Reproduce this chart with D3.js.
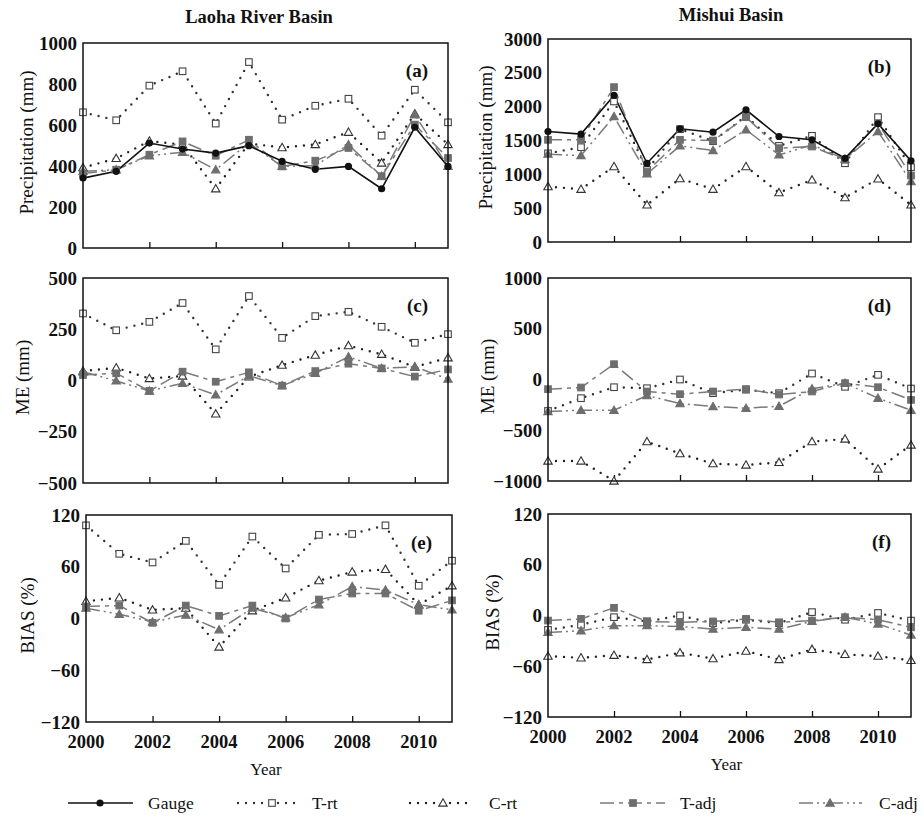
<!DOCTYPE html>
<html>
<head>
<meta charset="utf-8">
<script src="https://cdn.jsdelivr.net/npm/d3@7"></script>
<style>
  body { margin: 0; background: #fff; }
  text { font-family: 'Liberation Serif', 'Times New Roman', serif; fill: #111; }
</style>
</head>
<body>
<div id="chart"></div>
<script>
// years on the x axis
var years = [2000, 2001, 2002, 2003, 2004, 2005, 2006, 2007, 2008, 2009, 2010, 2011];
var yearTicks = [2000, 2002, 2004, 2006, 2008, 2010];

// (a) Laoha precipitation (mm)
var aGauge = [341, 374, 512, 483, 463, 499, 423, 384, 398, 289, 589, 398];
var aTrt   = [662, 623, 792, 862, 607, 907, 626, 694, 728, 548, 772, 613];
var aCrt   = [392, 437, 522, 504, 289, 510, 490, 505, 565, 415, 655, 505];
var aTadj  = [363, 382, 455, 520, 450, 528, 398, 426, 488, 350, 602, 439];
var aCadj  = [374, 382, 450, 467, 382, 512, 398, 402, 504, 350, 650, 398];

// (b) Mishui precipitation (mm)
var bGauge = [1633, 1594, 2166, 1164, 1673, 1623, 1954, 1559, 1510, 1238, 1747, 1199];
var bTrt   = [1310, 1401, 2077, 1066, 1668, 1490, 1860, 1420, 1569, 1164, 1845, 1105];
var bCrt   = [819, 780, 1115, 548, 938, 780, 1115, 730, 918, 656, 933, 548];
var bTadj  = [1510, 1510, 2289, 1041, 1510, 1500, 1845, 1387, 1411, 1214, 1757, 982];
var bCadj  = [1298, 1278, 1855, 1007, 1421, 1352, 1658, 1288, 1436, 1224, 1633, 893];

// (c) Laoha ME (mm)
var cTrt  = [327, 245, 286, 378, 152, 412, 208, 314, 335, 262, 184, 226];
var cCrt  = [46, 62, 10, 22, -163, 18, 75, 124, 170, 128, 66, 111];
var cTadj = [27, 35, -51, 43, -6, 40, -25, 46, 82, 59, 19, 54];
var cCadj = [43, -2, -51, -14, -70, 23, -25, 35, 116, 59, 67, 7];

// (d) Mishui ME (mm)
var dTrt  = [-310, -184, -76, -86, 0, -135, -100, -135, 59, -72, 46, -89];
var dCrt  = [-803, -803, -1000, -612, -730, -829, -842, -816, -612, -586, -882, -645];
var dTadj = [-95, -79, 151, -118, -145, -118, -95, -148, -118, -36, -76, -201];
var dCadj = [-316, -303, -303, -158, -237, -266, -283, -263, -92, -36, -184, -303];

// (e) Laoha BIAS (%)
var eTrt  = [108, 75, 65, 90, 39, 95, 58, 97, 98, 108, 38, 67];
var eCrt  = [20, 24, 10, 12, -33, 9, 24, 44, 54, 57, 16, 38];
var eTadj = [14, 15, -5, 15, 3, 15, 0, 22, 29, 29, 9, 21];
var eCadj = [12, 5, -4, 4, -13, 12, 1, 16, 37, 33, 16, 10];

// (f) Mishui BIAS (%)
var fTrt  = [-17, -11, -2, -7, 0, -9, -5, -9, 4, -5, 3, -6];
var fCrt  = [-48, -50, -47, -52, -44, -51, -42, -52, -40, -46, -48, -53];
var fTadj = [-6, -4, 9, -7, -8, -7, -4, -8, -6, -2, -5, -14];
var fCadj = [-20, -18, -12, -12, -13, -16, -14, -16, -7, -2, -10, -23];

// line styles
var styles = {
  "Gauge": { color: "#111", width: 1.6, dash: null, marker: "circle", fill: "#111" },
  "T-rt":  { color: "#333", width: 2.4, dash: "0,8", cap: "round", marker: "square", fill: "#fff", mstroke: "#444" },
  "C-rt":  { color: "#222", width: 2.4, dash: "0,8", cap: "round", marker: "triangle", fill: "#fff", mstroke: "#333" },
  "T-adj": { color: "#7a7a7a", width: 1.5, dash: "14,5,4,5", marker: "square", fill: "#6e6e6e" },
  "C-adj": { color: "#7a7a7a", width: 1.5, dash: "14,4,2,4,2,4", marker: "triangle", fill: "#6e6e6e" }
};
var drawOrder = ["C-rt", "T-rt", "C-adj", "T-adj", "Gauge"];

var panels = [
  { id: "(a)", x0: 83, x1: 448, y0: 43, y1: 248, dom: [0, 1000], ticks: d3.range(0, 1001, 200),
    title: "Precipitation (mm)", tx: 26,
    series: { "Gauge": aGauge, "T-rt": aTrt, "C-rt": aCrt, "T-adj": aTadj, "C-adj": aCadj } },
  { id: "(b)", x0: 548, x1: 911, y0: 39, y1: 242, dom: [0, 3000], ticks: d3.range(0, 3001, 500),
    title: "Precipitation (mm)", tx: 485,
    series: { "Gauge": bGauge, "T-rt": bTrt, "C-rt": bCrt, "T-adj": bTadj, "C-adj": bCadj } },
  { id: "(c)", x0: 83, x1: 448, y0: 278, y1: 483, dom: [-500, 500], ticks: [-500, -250, 0, 250, 500],
    title: "ME (mm)", tx: 22,
    series: { "T-rt": cTrt, "C-rt": cCrt, "T-adj": cTadj, "C-adj": cCadj } },
  { id: "(d)", x0: 548, x1: 911, y0: 278, y1: 481, dom: [-1000, 1000], ticks: [-1000, -500, 0, 500, 1000],
    title: "ME (mm)", tx: 487,
    series: { "T-rt": dTrt, "C-rt": dCrt, "T-adj": dTadj, "C-adj": dCadj } },
  { id: "(e)", x0: 86, x1: 452, y0: 515, y1: 722, dom: [-120, 120], ticks: [-120, -60, 0, 60, 120],
    title: "BIAS (%)", tx: 27, xlabels: true,
    series: { "T-rt": eTrt, "C-rt": eCrt, "T-adj": eTadj, "C-adj": eCadj } },
  { id: "(f)", x0: 548, x1: 911, y0: 514, y1: 717, dom: [-120, 120], ticks: [-120, -60, 0, 60, 120],
    title: "BIAS (%)", tx: 492, xlabels: true,
    series: { "T-rt": fTrt, "C-rt": fCrt, "T-adj": fTadj, "C-adj": fCadj } }
];

var svg = d3.select("#chart").append("svg")
  .attr("width", 924).attr("height", 818);

svg.append("text").attr("x", 259).attr("y", 23)
  .attr("text-anchor", "middle").style("font-size", "18.5px").style("font-weight", "bold")
  .text("Laoha River Basin");
svg.append("text").attr("x", 731).attr("y", 21)
  .attr("text-anchor", "middle").style("font-size", "18.5px").style("font-weight", "bold")
  .text("Mishui Basin");

function drawMarker(g, type, cx, cy, st) {
  if (type === "circle") {
    g.append("circle").attr("cx", cx).attr("cy", cy).attr("r", 3.6).attr("fill", st.fill);
  } else if (type === "square") {
    g.append("rect").attr("x", cx - 3.3).attr("y", cy - 3.3).attr("width", 6.6).attr("height", 6.6)
      .attr("fill", st.fill).attr("stroke", st.mstroke || st.fill).attr("stroke-width", 1.1);
  } else {
    var s = 4.2;
    g.append("path").attr("d", "M" + cx + "," + (cy - s) + "L" + (cx + s) + "," + (cy + s * 0.75) + "L" + (cx - s) + "," + (cy + s * 0.75) + "Z")
      .attr("fill", st.fill).attr("stroke", st.mstroke || st.fill).attr("stroke-width", 1.1);
  }
}

panels.forEach(function (p) {
  var g = svg.append("g");
  var x = d3.scaleLinear().domain([2000, 2011]).range([p.x0, p.x1]);
  var y = d3.scaleLinear().domain(p.dom).range([p.y1, p.y0]);

  // y tick labels
  g.selectAll("text.ytick").data(p.ticks).enter().append("text")
    .attr("x", p.x0 - 6).attr("y", function (d) { return y(d); }).attr("dy", "0.35em")
    .attr("text-anchor", "end").style("font-size", "19px").style("font-weight", "bold")
    .text(function (d) { return d3.format("d")(d); });

  // inner x ticks
  var xAxis = d3.axisTop(x).tickValues(yearTicks.filter(function (d) { return d > 2000; }))
    .tickSize(6).tickFormat("");
  var ax = g.append("g").attr("transform", "translate(0," + p.y1 + ")").call(xAxis);
  ax.select(".domain").remove();
  ax.selectAll("line").attr("stroke", "#111").attr("stroke-width", 1.3);

  if (p.xlabels) {
    g.selectAll("text.xtick").data(yearTicks).enter().append("text")
      .attr("x", function (d) { return x(d); }).attr("y", p.y1 + 26)
      .attr("text-anchor", "middle").style("font-size", "18.5px").style("font-weight", "bold")
      .text(function (d) { return d; });
    g.append("text").attr("x", (p.x0 + p.x1) / 2 - 3).attr("y", p.y1 + 53)
      .attr("text-anchor", "middle").style("font-size", "17px").text("Year");
  }

  // y axis title
  var cy = (p.y0 + p.y1) / 2 - 3;
  g.append("text").attr("transform", "translate(" + p.tx + "," + cy + ") rotate(-90)")
    .attr("dy", "0.35em").attr("text-anchor", "middle").style("font-size", "19px")
    .text(p.title);

  // series
  var line = d3.line().x(function (d, i) { return x(years[i]); }).y(function (d) { return y(d); });
  drawOrder.forEach(function (name) {
    var vals = p.series[name];
    if (!vals) return;
    var st = styles[name];
    g.append("path").datum(vals).attr("d", line)
      .attr("fill", "none").attr("stroke", st.color).attr("stroke-width", st.width)
      .attr("stroke-dasharray", st.dash).attr("stroke-linecap", st.cap || "butt");
  });
  drawOrder.forEach(function (name) {
    var vals = p.series[name];
    if (!vals) return;
    var st = styles[name];
    vals.forEach(function (v, i) { drawMarker(g, st.marker, x(years[i]), y(v), st); });
  });

  // frame
  g.append("rect").attr("x", p.x0).attr("y", p.y0)
    .attr("width", p.x1 - p.x0).attr("height", p.y1 - p.y0)
    .attr("fill", "none").attr("stroke", "#111").attr("stroke-width", 1.5);

  // panel label
  g.append("text").attr("x", p.x1 - 20).attr("y", p.y0 + 27).attr("dy", "0.35em")
    .attr("text-anchor", "end").style("font-size", "19px").style("font-weight", "bold")
    .text(p.id);
});

// legend
var legendItems = [
  { name: "Gauge", lx0: 68, lx1: 133, mx: 100, tx: 148 },
  { name: "T-rt", lx0: 238, lx1: 302, mx: 272, tx: 312 },
  { name: "C-rt", lx0: 410, lx1: 472, mx: 443, tx: 489 },
  { name: "T-adj", lx0: 600, lx1: 665, mx: 633, tx: 680 },
  { name: "C-adj", lx0: 799, lx1: 862, mx: 830, tx: 879 }
];
var ly = 803;
var lg = svg.append("g");
legendItems.forEach(function (it) {
  var st = styles[it.name];
  lg.append("line").attr("x1", it.lx0).attr("x2", it.lx1).attr("y1", ly).attr("y2", ly)
    .attr("stroke", st.color).attr("stroke-width", st.width)
    .attr("stroke-dasharray", st.dash).attr("stroke-linecap", st.cap || "butt");
  drawMarker(lg, st.marker, it.mx, ly, st);
  lg.append("text").attr("x", it.tx).attr("y", ly).attr("dy", "0.35em")
    .style("font-size", "17.5px").text(it.name);
});
</script>
</body>
</html>
